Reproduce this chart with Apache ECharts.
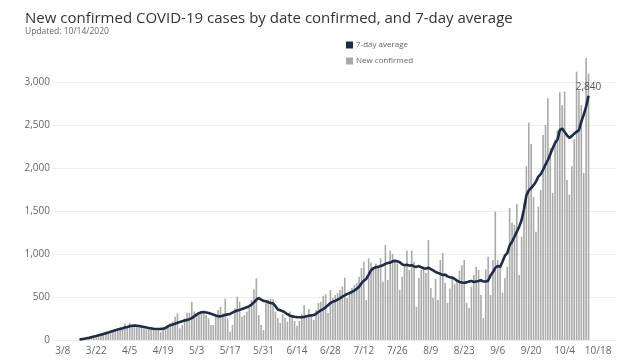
<!DOCTYPE html>
<html lang="en">
<head>
    <meta charset="UTF-8">
    <title>COVID-19 cases</title>
    <style>
        html, body { margin: 0; padding: 0; background: #fff; }
    </style>
</head>
<body>
    <div id="main" style="height:360px; width: 640px;"></div>
    <script src="https://cdn.jsdelivr.net/npm/echarts@6/dist/echarts.min.js"></script>
    <script>
        // daily values, 3/15 .. 10/14 (one array per month)
        var newMar = [5, 12, 15, 22, 30, 40, 35, 55, 60, 75, 65, 88, 100, 80, 95, 120, 110];
        var newApr = [150, 140, 190, 160, 200, 150, 180, 170, 165, 150, 130, 125, 140, 120, 135, 110, 130, 90, 140, 125,
            150, 194, 213, 271, 310, 136, 174, 252, 318, 314];
        var newMay = [445, 330, 310, 291, 314, 330, 291, 252, 174, 174, 271, 349, 387, 310, 484, 252, 97, 174, 368, 504,
            445, 271, 291, 330, 387, 465, 590, 717, 291, 174, 116];
        var newJun = [430, 470, 477, 470, 330, 256, 198, 302, 256, 213, 330, 271, 221, 167, 221, 300, 407, 271, 360, 290,
            233, 349, 430, 445, 512, 535, 314, 581, 488, 523];
        var newJul = [546, 580, 620, 725, 488, 546, 605, 640, 663, 736, 837, 910, 465, 950, 900, 837, 890, 852, 950, 678,
            1105, 697, 1040, 1000, 910, 890, 581, 736, 852, 1040, 814];
        var newAug = [1040, 910, 387, 720, 814, 852, 780, 1163, 605, 488, 710, 465, 930, 1010, 667, 434, 600, 736, 651, 697,
            806, 870, 930, 434, 372, 620, 756, 852, 814, 523, 256];
        var newSep = [820, 969, 523, 930, 1492, 930, 852, 550, 720, 852, 1535, 1364, 1337, 1581, 756, 1201, 1593, 2023, 2527, 2279,
            1663, 1260, 1550, 1744, 2384, 2500, 2810, 2230, 1710, 2330];
        var newOct = [2440, 2880, 2730, 2890, 1860, 1690, 2020, 2330, 3120, 2900, 2730, 1940, 3280, 3100];

        var avgMar = [5, 10, 14, 20, 26, 33, 40, 46, 54, 62, 70, 78, 86, 96, 105, 114, 122];
        var avgApr = [128, 136, 145, 152, 160, 166, 168, 166, 162, 157, 152, 146, 140, 135, 131, 128, 128, 129, 131, 140,
            158, 172, 180, 190, 200, 210, 218, 226, 234, 242];
        var avgMay = [255, 275, 295, 312, 322, 325, 320, 314, 305, 295, 284, 276, 275, 282, 292, 298, 303, 318, 332, 343,
            350, 360, 370, 380, 395, 412, 438, 468, 488, 470, 455];
        var avgJun = [450, 440, 430, 425, 395, 355, 345, 335, 320, 300, 285, 275, 270, 266, 265, 266, 268, 275, 282, 286,
            290, 305, 325, 345, 360, 380, 405, 430, 445, 455];
        var avgJul = [470, 485, 505, 520, 535, 545, 560, 575, 595, 620, 660, 690, 710, 760, 810, 835, 845, 850, 860, 870,
            885, 895, 900, 915, 920, 915, 905, 880, 870, 875, 865];
        var avgAug = [870, 855, 850, 860, 845, 835, 830, 840, 825, 810, 790, 780, 770, 755, 760, 740, 730, 725, 710, 690,
            675, 668, 665, 670, 680, 685, 675, 680, 685, 695, 680];
        var avgSep = [680, 690, 750, 790, 840, 860, 850, 910, 980, 1010, 1100, 1143, 1200, 1260, 1318, 1395, 1520, 1680, 1740, 1767,
            1800, 1840, 1900, 1930, 1980, 2040, 2093, 2160, 2230, 2290];
        var avgOct = [2330, 2440, 2460, 2420, 2380, 2350, 2370, 2400, 2420, 2440, 2540, 2620, 2713, 2840];

        var yTicks = [0, 500, 1000, 1500, 2000, 2500, 3000];
        var firstDay = '2020-03-15';
        var axisStart = '2020-03-04';
        var axisDays = 236;

        var newConfirmed = [].concat(newMar, newApr, newMay, newJun, newJul, newAug, newSep, newOct);
        var sevenDay = [].concat(avgMar, avgApr, avgMay, avgJun, avgJul, avgAug, avgSep, avgOct);

        function label(d) {
            return (d.getUTCMonth() + 1) + '/' + d.getUTCDate();
        }
        function dayList(start, n) {
            var out = [];
            var t = new Date(start + 'T00:00:00Z').getTime();
            for (var i = 0; i < n; i++) out.push(label(new Date(t + i * 86400000)));
            return out;
        }
        var categories = dayList(axisStart, axisDays);
        var dataDays = dayList(firstDay, newConfirmed.length);
        var labelOffset = categories.indexOf('3/8');

        var last = sevenDay.length - 1;
        var barData = newConfirmed.map(function (v, i) { return [dataDays[i], v]; });
        var lineData = sevenDay.map(function (v, i) { return [dataDays[i], v]; });

        var myChart = echarts.init(document.getElementById('main'));
        var option = {
            animation: false,
            title: {
                text: 'New confirmed COVID-19 cases by date confirmed, and 7-day average',
                subtext: 'Updated: 10/14/2020',
                left: 20,
                top: 6,
                itemGap: 1,
                textStyle: {
                    fontFamily: 'Open Sans',
                    fontSize: 15,
                    fontWeight: 'normal',
                    color: '#333'
                },
                subtextStyle: {
                    fontFamily: 'Open Sans',
                    fontSize: 8.5,
                    color: '#666'
                }
            },
            legend: {
                orient: 'vertical',
                left: 341,
                top: 36,
                itemWidth: 7,
                itemHeight: 7,
                itemGap: 8,
                icon: 'rect',
                textStyle: { fontFamily: 'Open Sans', fontSize: 8, color: '#666', padding: [0, 0, 0, -2] },
                data: ['7-day average', 'New confirmed']
            },
            grid: {
                left: 52,
                right: 24,
                top: 82,
                bottom: 20,
                containLabel: false
            },
            xAxis: {
                type: 'category',
                data: categories,
                boundaryGap: true,
                axisLine: { show: false },
                axisTick: { show: false },
                axisLabel: {
                    interval: function (index) { return (index - labelOffset) % 14 === 0 && index >= labelOffset; },
                    fontFamily: 'Open Sans',
                    fontSize: 10,
                    color: '#666',
                    margin: 6
                }
            },
            yAxis: {
                type: 'value',
                min: yTicks[0],
                max: yTicks[yTicks.length - 1],
                interval: 500,
                axisLine: { show: false },
                axisTick: { show: false },
                axisLabel: {
                    fontFamily: 'Open Sans',
                    fontSize: 10,
                    color: '#666',
                    margin: 2,
                    formatter: function (v) { return v.toLocaleString('en-US'); }
                },
                splitLine: { lineStyle: { color: '#eeeeee', width: 1 } }
            },
            series: [
                {
                    name: 'New confirmed',
                    type: 'bar',
                    data: barData,
                    barWidth: 1.6,
                    clip: false,
                    itemStyle: { color: '#a9a9a9' },
                    z: 1
                },
                {
                    name: '7-day average',
                    type: 'line',
                    data: lineData,
                    showSymbol: false,
                    symbol: 'none',
                    lineStyle: { color: '#1f2b47', width: 2.6 },
                    itemStyle: { color: '#1f2b47' },
                    markPoint: {
                        symbol: 'circle',
                        symbolSize: 1,
                        itemStyle: { color: 'transparent' },
                        label: {
                            show: true,
                            position: 'top',
                            distance: 3,
                            fontFamily: 'Open Sans',
                            fontSize: 10,
                            color: '#555',
                            formatter: function (p) { return p.value.toLocaleString('en-US'); }
                        },
                        data: [{ coord: [dataDays[last], sevenDay[last]], value: sevenDay[last] }]
                    },
                    z: 3
                }
            ]
        };
        myChart.setOption(option);
    </script>
</body>
</html>
